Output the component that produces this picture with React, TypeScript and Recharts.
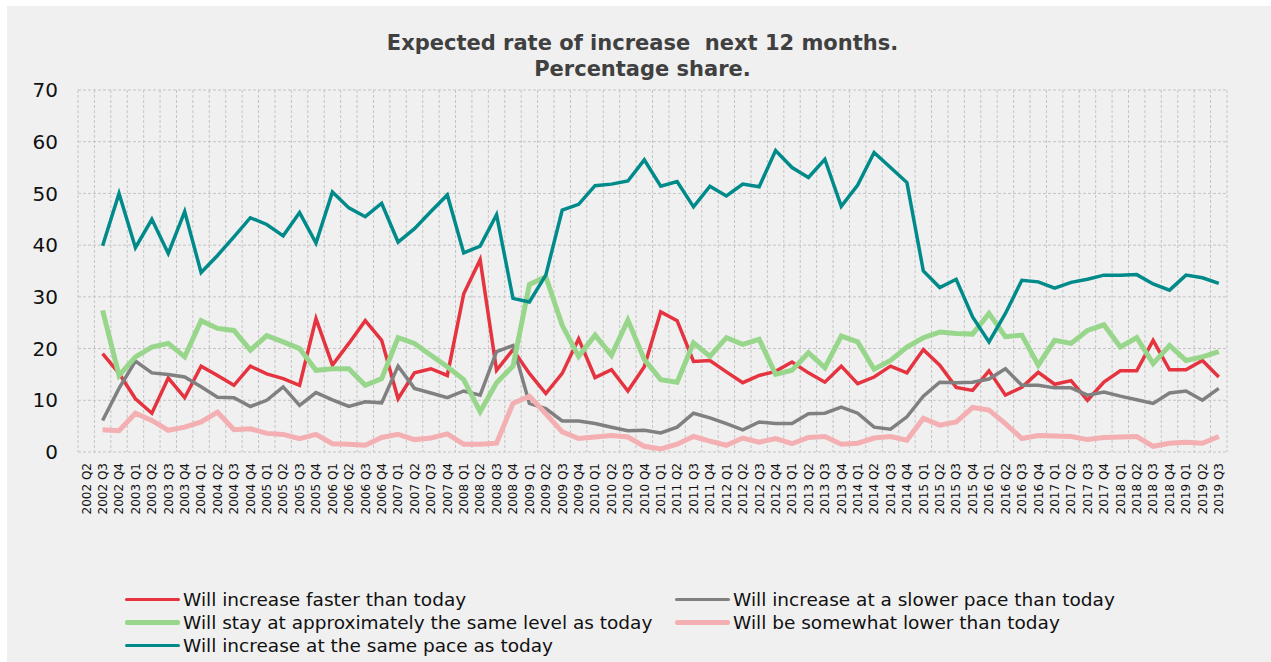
import { LineChart, Line, XAxis, YAxis, CartesianGrid } from "recharts";

const quarters = [
  "2002 Q2", "2002 Q3", "2002 Q4",
  "2003 Q1", "2003 Q2", "2003 Q3", "2003 Q4",
  "2004 Q1", "2004 Q2", "2004 Q3", "2004 Q4",
  "2005 Q1", "2005 Q2", "2005 Q3", "2005 Q4",
  "2006 Q1", "2006 Q2", "2006 Q3", "2006 Q4",
  "2007 Q1", "2007 Q2", "2007 Q3", "2007 Q4",
  "2008 Q1", "2008 Q2", "2008 Q3", "2008 Q4",
  "2009 Q1", "2009 Q2", "2009 Q3", "2009 Q4",
  "2010 Q1", "2010 Q2", "2010 Q3", "2010 Q4",
  "2011 Q1", "2011 Q2", "2011 Q3", "2011 Q4",
  "2012 Q1", "2012 Q2", "2012 Q3", "2012 Q4",
  "2013 Q1", "2013 Q2", "2013 Q3", "2013 Q4",
  "2014 Q1", "2014 Q2", "2014 Q3", "2014 Q4",
  "2015 Q1", "2015 Q2", "2015 Q3", "2015 Q4",
  "2016 Q1", "2016 Q2", "2016 Q3", "2016 Q4",
  "2017 Q1", "2017 Q2", "2017 Q3", "2017 Q4",
  "2018 Q1", "2018 Q2", "2018 Q3", "2018 Q4",
  "2019 Q1", "2019 Q2", "2019 Q3",
];

// first quarter has no survey values
const fasterThanToday = [
  null, 19.0, 15.2, 10.3, 7.5, 14.3, 10.5, 16.6, 14.8, 12.9, 16.6,
  15.1, 14.2, 12.9, 25.8, 16.8, 21.0, 25.4, 21.6, 10.3, 15.3,
  16.1, 14.8, 30.6, 37.2, 15.8, 19.8, 15.2, 11.3, 15.2, 21.9,
  14.4, 15.9, 11.8, 16.5, 27.1, 25.4, 17.5, 17.7, 15.5, 13.4,
  14.8, 15.6, 17.4, 15.3, 13.5, 16.6, 13.2, 14.5, 16.6, 15.3,
  19.8, 16.8, 12.5, 11.9, 15.7, 11.0, 12.5, 15.4, 13.1, 13.8,
  10.0, 13.5, 15.7, 15.7, 21.6, 15.9, 15.9, 17.7, 14.5,
];

const slowerPace = [
  null, 6.1, 12.3, 17.6, 15.3, 15.0, 14.5, 12.6, 10.6, 10.5, 8.8,
  10.0, 12.6, 9.0, 11.5, 10.1, 8.8, 9.7, 9.5, 16.6, 12.3,
  11.4, 10.5, 11.8, 11.0, 19.4, 20.6, 9.4, 8.4, 6.0, 6.0,
  5.5, 4.8, 4.1, 4.2, 3.7, 4.8, 7.5, 6.6, 5.5, 4.3,
  5.8, 5.5, 5.5, 7.4, 7.5, 8.7, 7.5, 4.8, 4.4, 6.8,
  10.8, 13.5, 13.4, 13.5, 14.1, 16.1, 12.9, 12.9, 12.4, 12.4,
  11.0, 11.6, 10.8, 10.1, 9.4, 11.4, 11.8, 10.0, 12.3,
];

const sameLevel = [
  null, 27.4, 14.8, 18.4, 20.3, 21.0, 18.4, 25.4, 23.9, 23.5, 19.7,
  22.5, 21.3, 20.0, 15.8, 16.1, 16.1, 12.9, 14.2, 22.1, 21.0,
  18.7, 16.5, 14.0, 7.8, 13.4, 16.6, 32.4, 33.9, 24.5, 18.5,
  22.6, 18.7, 25.5, 17.9, 14.0, 13.5, 21.1, 18.5, 22.1, 20.8,
  21.8, 15.0, 15.8, 19.2, 16.3, 22.4, 21.3, 16.0, 17.7, 20.3,
  22.1, 23.2, 22.9, 22.8, 26.8, 22.3, 22.6, 16.8, 21.6, 21.0,
  23.5, 24.6, 20.3, 22.1, 17.1, 20.6, 17.7, 18.4, 19.4,
];

const somewhatLower = [
  null, 4.3, 4.1, 7.5, 6.1, 4.2, 4.8, 5.8, 7.7, 4.3, 4.5,
  3.6, 3.4, 2.6, 3.4, 1.6, 1.5, 1.3, 2.8, 3.4, 2.4,
  2.7, 3.5, 1.5, 1.5, 1.7, 9.4, 10.8, 7.4, 3.9, 2.6,
  2.9, 3.2, 2.9, 1.1, 0.6, 1.5, 3.0, 2.1, 1.3, 2.7,
  1.9, 2.6, 1.6, 2.8, 3.0, 1.5, 1.7, 2.7, 3.0, 2.3,
  6.5, 5.2, 5.8, 8.6, 8.1, 5.5, 2.6, 3.2, 3.1, 3.0,
  2.4, 2.8, 2.9, 3.0, 1.1, 1.7, 1.9, 1.7, 3.0,
];

const samePace = [
  null, 39.9, 50.0, 39.5, 45.0, 38.4, 46.5, 34.7, 38.0, 41.6, 45.3,
  44.0, 41.8, 46.3, 40.4, 50.3, 47.2, 45.5, 48.1, 40.6, 43.2,
  46.5, 49.7, 38.5, 39.8, 45.9, 29.7, 29.0, 34.2, 46.8, 47.9,
  51.5, 51.8, 52.4, 56.5, 51.4, 52.3, 47.4, 51.4, 49.5, 51.8,
  51.3, 58.3, 55.0, 53.1, 56.6, 47.5, 51.6, 57.9, 55.0, 52.1,
  35.0, 31.8, 33.4, 26.1, 21.3, 26.8, 33.2, 32.9, 31.7, 32.8,
  33.4, 34.2, 34.2, 34.3, 32.5, 31.3, 34.2, 33.7, 32.6,
];

const yTicks = [0, 10, 20, 30, 40, 50, 60, 70];

const data = quarters.map((quarter, i) => ({
  quarter,
  faster: fasterThanToday[i],
  slower: slowerPace[i],
  level: sameLevel[i],
  lower: somewhatLower[i],
  pace: samePace[i],
}));

// drawing order matches the legend order (teal on top)
const series = [
  { key: "faster", name: "Will increase faster than today", color: "#E5333F", width: 3.5, col: 0, row: 0 },
  { key: "slower", name: "Will increase at a slower pace than today", color: "#808080", width: 3.5, col: 1, row: 0 },
  { key: "level", name: "Will stay at approximately the same level as today", color: "#98D68C", width: 5, col: 0, row: 1 },
  { key: "lower", name: "Will be somewhat lower than today", color: "#F4AFB2", width: 5, col: 1, row: 1 },
  { key: "pace", name: "Will increase at the same pace as today", color: "#008A8A", width: 3.5, col: 0, row: 2 },
];

const FONT = "'DejaVu Sans', Verdana, sans-serif";

function QuarterTick({ x, y, payload }: any) {
  return (
    <text
      x={x}
      y={y}
      transform={`rotate(-90, ${x}, ${y})`}
      textAnchor="end"
      dy="0.36em"
      fontSize={12}
      fontFamily={FONT}
      fill="#111"
    >
      {payload.value}
    </text>
  );
}

export default function App() {
  return (
    <div style={{ position: "absolute", left: 0, top: 0, width: 1271, height: 662, background: "#fff" }}>
      <div style={{ position: "absolute", left: 7, top: 6, width: 1264, height: 656, background: "#f0f0f0" }} />

      <div
        style={{
          position: "absolute", left: 0, top: 30, width: 1285, textAlign: "center",
          fontFamily: FONT, fontWeight: "bold", fontSize: 21, lineHeight: "26px",
          color: "#404040", whiteSpace: "pre",
        }}
      >
        {"Expected rate of increase  next 12 months.\nPercentage share."}
      </div>

      <div style={{ position: "absolute", left: 0, top: 0 }}>
        <LineChart width={1271} height={560} data={data} margin={{ top: 90, right: 4, left: 38, bottom: 28 }}>
          <CartesianGrid
            stroke="#c4c4c4"
            strokeDasharray="3 2"
            verticalCoordinatesGenerator={({ offset }: any) =>
              Array.from({ length: quarters.length + 1 }, (_, k) => offset.left + (k * offset.width) / quarters.length)
            }
          />
          <XAxis
            dataKey="quarter"
            interval={0}
            tickLine={false}
            axisLine={false}
            tickSize={0}
            tickMargin={11}
            height={80}
            padding={{ left: 8.2, right: 8.2 }}
            tick={<QuarterTick />}
          />
          <YAxis
            domain={[0, 70]}
            ticks={yTicks}
            width={40}
            tickLine={false}
            axisLine={false}
            tickSize={0}
            tickMargin={20}
            tick={{ fontSize: 20, fill: "#111", fontFamily: FONT }}
          />
          <YAxis
            yAxisId="right"
            orientation="right"
            domain={[0, 70]}
            ticks={yTicks}
            width={40}
            tickLine={false}
            axisLine={false}
            tickSize={0}
            tickMargin={20}
            tick={{ fontSize: 20, fill: "#111", fontFamily: FONT, textAnchor: "start" }}
          />
          {series.map((s) => (
            <Line
              key={s.key}
              type="linear"
              dataKey={s.key}
              name={s.name}
              stroke={s.color}
              strokeWidth={s.width}
              dot={false}
              activeDot={false}
              isAnimationActive={false}
            />
          ))}
        </LineChart>
      </div>

      {series.map((s) => (
        <div
          key={s.key}
          style={{
            position: "absolute",
            left: s.col === 0 ? 125 : 675,
            top: 588 + s.row * 23,
            height: 23,
            display: "flex",
            alignItems: "center",
            whiteSpace: "nowrap",
            fontFamily: FONT,
            fontSize: 18.5,
            color: "#111",
          }}
        >
          <span style={{ display: "inline-block", width: 55, height: s.width, background: s.color, borderRadius: 2, marginRight: 3 }} />
          <span>{s.name}</span>
        </div>
      ))}
    </div>
  );
}
